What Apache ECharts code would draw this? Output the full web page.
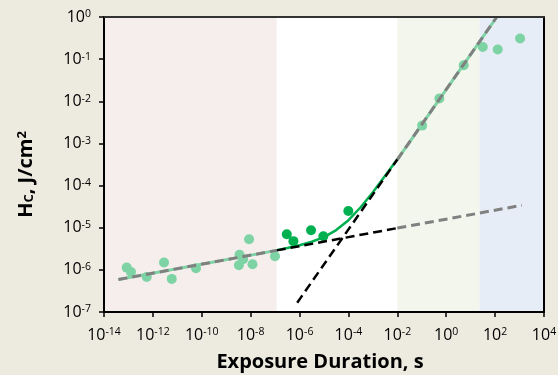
<!DOCTYPE html>
<html><head><meta charset="utf-8">
<script src="https://cdn.jsdelivr.net/npm/echarts@6/dist/echarts.min.js"></script>
<style>html,body{margin:0;padding:0;background:#EDEBE0}#c{width:558px;height:375px}</style>
</head><body><div id="c"></div>
<script>
// ---- data ----
const xTickExps = [-14,-12,-10,-8,-6,-4,-2,0,2,4];
const yTickExps = [-7,-6,-5,-4,-3,-2,-1,0];
const bandEdges = [1e-14, 1.17e-7, 1e-2, 23, 1e4];

const lowT  = [8.5e-14,1.27e-13,5.6e-13,2.85e-12,5.9e-12,5.8e-11,3.5e-9,4.9e-9,3.3e-9,1.19e-8,8.6e-9,9.9e-8];
const lowH  = [1.13e-6,8.9e-7,6.8e-7,1.49e-6,6.1e-7,1.09e-6,2.28e-6,1.78e-6,1.28e-6,1.36e-6,5.3e-6,2.1e-6];
const midT  = [3.0e-7,5.6e-7,2.95e-6,9.4e-6,9.9e-5];
const midH  = [7.0e-6,4.8e-6,8.7e-6,6.25e-6,2.5e-5];
const highT = [0.103,0.524,5.2,31.3,128,1050];
const highH = [2.65e-3,0.0116,0.0714,0.195,0.169,0.308];

const shallowT = [3.9e-14,1.17e-7,1e-2,1.23e3];
const shallowH = [5.9e-7,2.9e-6,9.8e-6,3.4e-5];
const steepT = [8e-7,1e-2,117];
const steepH = [1.66e-7,4.15e-4,1];
const curveT = [1.17e-7,3.16e-7,1e-6,3.16e-6,1e-5,3.16e-5,1e-4,3.16e-4,1e-3,3.16e-3,1e-2];
const curveH = [2.94e-6,3.3e-6,3.85e-6,4.65e-6,6.0e-6,8.8e-6,1.51e-5,3.06e-5,6.96e-5,1.7e-4,4.2e-4];

// ---- helpers ----
const FONT = 'Open Sans';
function pair(t,h){return t.map((v,i)=>[v,h[i]]);}
function seg(t,h,a,b){return pair(t.slice(a,b+1),h.slice(a,b+1));}
function expLabel(list){
  return function(v){
    const e = Math.round(Math.log10(v));
    if (list.indexOf(e) < 0) return '';
    return '{b|10}{s|' + e + '}';
  };
}
const labelRich = {
  b:{fontFamily:FONT,fontSize:16,color:'#000'},
  s:{fontFamily:FONT,fontSize:10.5,color:'#000',verticalAlign:'top'}
};
const LGREEN = '#7dd3a3', DGREEN = '#00b050', GRAY = '#808080';
const DASH = [9,5];

function lineS(data, color, width, type, z){
  return {type:'line', data:data, symbol:'none', silent:true, z:z,
    lineStyle:{color:color, width:width, type:type, cap:'butt'}};
}

const bandColors = ['#F6EDED','#FFFFFF','#F3F6EC','#E7EDF6'];
const bands = [];
for (let i=0;i<bandColors.length;i++){
  bands.push([{xAxis:bandEdges[i], itemStyle:{color:bandColors[i]}},{xAxis:bandEdges[i+1]}]);
}

const chart = echarts.init(document.getElementById('c'), null, {renderer:'canvas'});
chart.setOption({
  backgroundColor:'#EDEBE0',
  animation:false,
  grid:{left:104,top:17,width:440,height:295,show:true,backgroundColor:'#fff',borderWidth:0,
        containLabel:false,outerBoundsMode:'none'},
  xAxis:[{
    type:'log', logBase:100, min:1e-14, max:1e4, z:10,
    axisLine:{show:true,lineStyle:{color:'#000',width:2}},
    axisTick:{show:true,inside:false,length:5,lineStyle:{color:'#000',width:1.5}},
    splitLine:{show:false}, minorTick:{show:false},
    axisLabel:{formatter:expLabel(xTickExps),rich:labelRich,margin:15},
    name:'Exposure Duration, s', nameLocation:'middle', nameGap:40,
    nameTextStyle:{fontFamily:FONT,fontWeight:'bold',fontSize:20,color:'#000',padding:[0,8,0,0]}
  },{
    type:'log', logBase:100, min:1e-14, max:1e4, position:'top', z:10,
    axisLine:{show:true,lineStyle:{color:'#333',width:2}},
    axisTick:{show:false}, axisLabel:{show:false}, splitLine:{show:false}
  }],
  yAxis:[{
    type:'log', logBase:10, min:1e-7, max:1, z:10,
    axisLine:{show:true,lineStyle:{color:'#000',width:2}},
    axisTick:{show:true,inside:false,length:5,lineStyle:{color:'#000',width:1.5}},
    splitLine:{show:false}, minorTick:{show:false},
    axisLabel:{formatter:expLabel(yTickExps),rich:labelRich,margin:13},
    name:'{m|H}{sub|C}{m|, J/cm}{sup|2}', nameLocation:'middle', nameGap:68, nameRotate:90,
    nameTextStyle:{padding:[0,20,0,0],rich:{
      m:{fontFamily:FONT,fontWeight:'bold',fontSize:20,color:'#000'},
      sub:{fontFamily:FONT,fontWeight:'bold',fontSize:13,color:'#000',verticalAlign:'bottom'},
      sup:{fontFamily:FONT,fontWeight:'bold',fontSize:13,color:'#000',verticalAlign:'top'}
    }}
  },{
    type:'log', logBase:10, min:1e-7, max:1, position:'right', z:10,
    axisLine:{show:true,lineStyle:{color:'#000',width:2}},
    axisTick:{show:false}, axisLabel:{show:false}, splitLine:{show:false}
  }],
  series:[
    {type:'line', data:[[1,1e-7]], symbol:'none', silent:true, lineStyle:{opacity:0},
     markArea:{silent:true, data:bands, itemStyle:{opacity:1}}},
    {type:'scatter', data:pair(lowT,lowH), symbolSize:10, itemStyle:{color:LGREEN,opacity:1}, z:3},
    {type:'scatter', data:pair(highT,highH), symbolSize:10, itemStyle:{color:LGREEN,opacity:1}, z:3},
    {type:'scatter', data:pair(midT,midH), symbolSize:10, itemStyle:{color:DGREEN,opacity:1}, z:3},
    lineS(seg(shallowT,shallowH,0,1), LGREEN, 3, 'solid', 4),
    lineS(seg(steepT,steepH,1,2), LGREEN, 3, 'solid', 4),
    lineS(seg(shallowT,shallowH,0,1), GRAY, 3, DASH, 5),
    lineS(seg(steepT,steepH,1,2), GRAY, 3, DASH, 5),
    lineS(seg(shallowT,shallowH,2,3), GRAY, 3, DASH, 5),
    lineS(pair(curveT,curveH), DGREEN, 2.5, 'solid', 4),
    lineS(seg(shallowT,shallowH,1,2), '#000', 2.5, DASH, 5),
    lineS(seg(steepT,steepH,0,1), '#000', 2.5, DASH, 5)
  ]
});
</script></body></html>
